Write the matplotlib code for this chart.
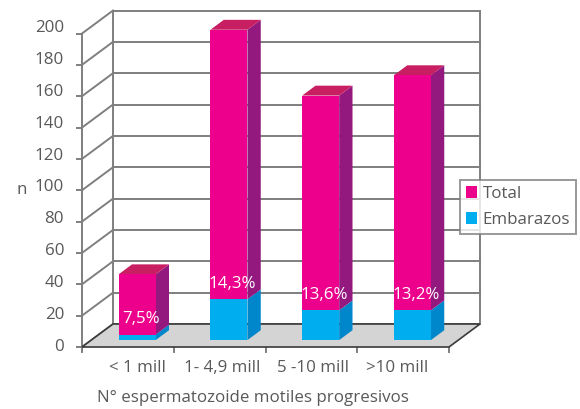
import matplotlib.pyplot as plt
from matplotlib.patches import Polygon, Patch

categories = ['< 1 mill', '1- 4,9 mill', '5 -10 mill', '>10 mill']
total = [42, 198, 156, 169]
embarazos = [3.5, 26, 19, 19]
pct_labels = ['7,5%', '14,3%', '13,6%', '13,2%']
yticks = list(range(0, 201, 20))

plt.rcParams['font.family'] = ['Open Sans', 'DejaVu Sans']

# fake 3D (oblique) projection on a plain 2D axes
W, H = 580, 409
X0, PX_CAT = 82, 91.75      # front axis origin / px per category
Y0, PX_VAL = 347, 1.5675    # front baseline / px per unit
DX, DV = 31 / PX_CAT, 23 / PX_VAL   # full depth offset
D0, D1 = 0.30, 0.73                 # bar depth span
BAR_W = 37 / PX_CAT

PINK, PINK_SIDE, PINK_TOP = '#EC008C', '#93197F', '#C81E62'
BLUE, BLUE_SIDE = '#00AEEF', '#0086CB'
GRID = '#7f7f7f'
DARK = '#3a3a3a'
TXT = '#595959'
FS = 12.2

fig = plt.figure(figsize=(5.8, 4.09), dpi=100)
ax = fig.add_axes([0, 0, 1, 1])
ax.set_xlim(-X0 / PX_CAT, (W - X0) / PX_CAT)
ax.set_ylim(-(H - Y0) / PX_VAL, Y0 / PX_VAL)
ax.axis('off')

n = len(categories)
ymax = yticks[-1]

# walls and gridlines
for t in yticks:
    ax.plot([DX, n + DX], [t + DV, t + DV], color=GRID, lw=1.4, zorder=1)
    ax.plot([0, DX], [t, t + DV], color=GRID, lw=1.4, zorder=1)
    ax.plot([-5 / PX_CAT, 0], [t, t], color=GRID, lw=1.4, zorder=1)
    ax.text(-18 / PX_CAT, t * 1.018, str(t), ha='right', va='center',
            fontsize=FS, color=TXT)
for x in (0, n):
    ax.plot([x + DX, x + DX], [DV, ymax + DV], color=GRID, lw=1.4, zorder=1)
ax.plot([0, 0], [0, ymax], color=GRID, lw=1.4, zorder=1)

# floor
floor = Polygon([(0, 0), (n, 0), (n + DX, DV), (DX, DV)], closed=True,
                facecolor='#d4d4d4', edgecolor=DARK, lw=1.2, zorder=2)
ax.add_patch(floor)
for i in range(n + 1):
    ax.plot([i, i], [0, -5 / PX_VAL], color=GRID, lw=1.4, zorder=1)

# bars
dd = D1 - D0
base = D0 * DV
for i in range(n):
    x0 = i + 0.5 - BAR_W / 2 + D0 * DX
    x1 = x0 + BAR_W
    segs = [(0, embarazos[i], BLUE, BLUE_SIDE),
            (embarazos[i], total[i], PINK, PINK_SIDE)]
    for lo, hi, fc, sc in segs:
        ax.bar(x0, hi - lo, width=BAR_W, bottom=base + lo, align='edge',
               color=fc, zorder=4)
        side = Polygon([(x1, base + lo), (x1 + dd * DX, base + lo + dd * DV),
                        (x1 + dd * DX, base + hi + dd * DV), (x1, base + hi)],
                       closed=True, facecolor=sc, edgecolor='none', zorder=3)
        ax.add_patch(side)
    top = total[i] + base
    ax.add_patch(Polygon([(x0, top), (x1, top), (x1 + dd * DX, top + dd * DV),
                          (x0 + dd * DX, top + dd * DV)], closed=True,
                         facecolor=PINK_TOP, edgecolor='none', zorder=3))
    ax.text(x0 + BAR_W / 2 + 0.04, base + embarazos[i] + 10, pct_labels[i],
            ha='center', va='center', color='white', fontsize=FS, zorder=5)

# category labels
nudge = [10, 2.5, 2, -5.5]
for i, c in enumerate(categories):
    ax.text(i + 0.5 + nudge[i] / PX_CAT, -21 / PX_VAL, c, ha='center',
            va='center', fontsize=FS, color=TXT)

ax.text((253 - X0) / PX_CAT, -51 / PX_VAL, 'N° espermatozoide motiles progresivos',
        ha='center', va='center', fontsize=FS, color=TXT)
ax.text(-60 / PX_CAT, 100, 'n', ha='center', va='center', fontsize=FS, color=TXT)

handles = [Patch(facecolor=PINK, label='Total'),
           Patch(facecolor=BLUE, label='Embarazos')]
leg = fig.legend(handles=handles, loc='upper left',
                 bbox_to_anchor=(460 / W, 1 - 180 / H), fontsize=FS,
                 frameon=True, fancybox=False, handlelength=0.65,
                 handleheight=0.65, handletextpad=0.35, labelspacing=0.6,
                 borderpad=0.35, borderaxespad=0)
leg.get_frame().set_edgecolor(GRID)
leg.get_frame().set_linewidth(1.4)
for t in leg.get_texts():
    t.set_color(TXT)

fig.savefig('out.png', dpi=100)
